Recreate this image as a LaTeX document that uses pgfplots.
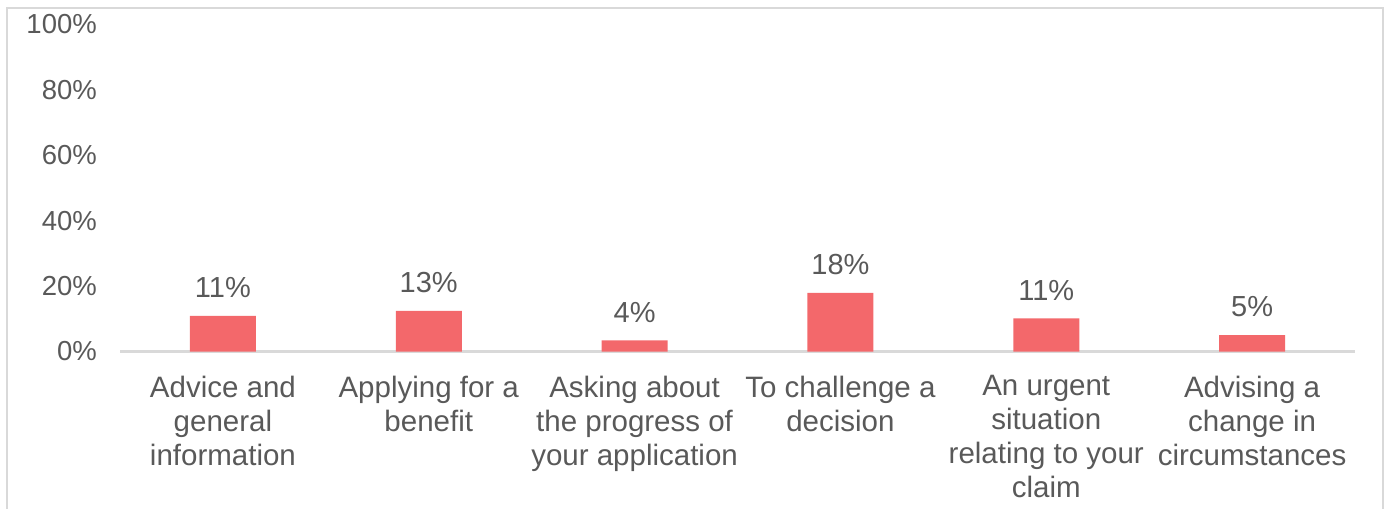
\documentclass[border=0pt]{standalone}
\usepackage{pgfplots}
\pgfplotsset{compat=1.18}
\usepackage{fontspec}
\setmainfont{Liberation Sans}
\definecolor{barred}{HTML}{F3686B}
\definecolor{txtgray}{HTML}{595959}
\definecolor{framegray}{HTML}{D9D9D9}
\begin{document}
\begin{tikzpicture}
\useasboundingbox (0bp,0bp) rectangle (1390bp,509bp);
\draw[framegray, line width=2bp] (7bp,0bp) -- (7bp,501bp) -- (1383bp,501bp) -- (1383bp,0bp);
\begin{axis}[
  at={(120bp,157.5bp)}, anchor=south west,
  scale only axis, width=1235bp, height=327bp,
  xmin=-0.5, xmax=5.5, ymin=0, ymax=100,
  axis x line*=bottom, axis y line*=left,
  y axis line style={draw=none},
  x axis line style={-, framegray, line width=2bp},
  ytick={0,20,40,60,80,100},
  yticklabels={0\%,20\%,40\%,60\%,80\%,100\%},
  xtick={0,1,2,3,4,5},
  xticklabels={{Advice and\\general\\information},{Applying for a\\benefit},{Asking about\\the progress of\\your application},{To challenge a\\decision},{An urgent\\situation\\relating to your\\claim},{Advising a\\change in\\circumstances}},
  tick style={draw=none}, major tick length=0pt,
  yticklabel style={font=\fontsize{27.5bp}{33bp}\selectfont, text=txtgray, anchor=east, inner sep=0pt, xshift=-23bp},
  xticklabel style={font=\fontsize{29.5bp}{34bp}\selectfont, text=txtgray, anchor=north, inner sep=0pt, yshift=-24bp, align=center},
  ybar, bar width=66bp,
  nodes near coords, point meta=explicit symbolic,
  nodes near coords style={font=\fontsize{29bp}{34bp}\selectfont, text=txtgray, anchor=south, inner sep=0pt, yshift=18bp},
]
\addplot[fill=barred, draw=none] table[x=x, y=y, meta=label] {
x y label
0 10.9 11\%
1 12.4 13\%
2 3.4 4\%
3 17.9 18\%
4 10.1 11\%
5 5.0 5\%
};
\end{axis}
\end{tikzpicture}
\end{document}
